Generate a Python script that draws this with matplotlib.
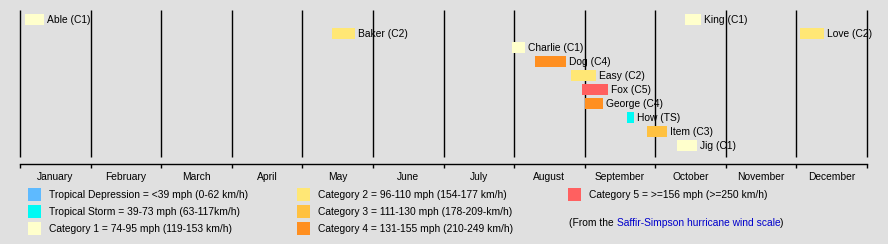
import calendar
import matplotlib
matplotlib.use('Agg')
import matplotlib.pyplot as plt
from matplotlib.patches import Rectangle

plt.rcParams['font.family'] = ['Liberation Sans', 'DejaVu Sans']
FS = 7.4

# storm data (month, day)
names = ['Able', 'Baker', 'Charlie', 'Dog', 'Easy', 'Fox', 'George', 'How',
         'Item', 'Jig', 'King', 'Love']
cats = ['C1', 'C2', 'C1', 'C4', 'C2', 'C5', 'C4', 'TS', 'C3', 'C1', 'C1', 'C2']
starts = [(1, 3), (5, 14), (7, 31), (8, 10), (8, 26), (8, 31), (9, 1), (9, 19),
          (9, 27.5), (10, 10.5), (10, 14), (12, 2.5)]
ends = [(1, 11.5), (5, 24), (8, 6), (8, 24), (9, 6), (9, 11), (9, 9), (9, 22),
        (10, 6), (10, 19.3), (10, 21), (12, 13)]
rows = [0, 1, 2, 3, 4, 5, 6, 7, 8, 9, 0, 1]

months = ['January', 'February', 'March', 'April', 'May', 'June', 'July',
          'August', 'September', 'October', 'November', 'December']

legend_keys = ['TD', 'TS', 'C1', 'C2', 'C3', 'C4', 'C5']
legend_labels = ['Tropical Depression = <39 mph (0-62 km/h)',
                 'Tropical Storm = 39-73 mph (63-117km/h)',
                 'Category 1 = 74-95 mph (119-153 km/h)',
                 'Category 2 = 96-110 mph (154-177 km/h)',
                 'Category 3 = 111-130 mph (178-209-km/h)',
                 'Category 4 = 131-155 mph (210-249 km/h)',
                 'Category 5 = >=156 mph (>=250 km/h)']

colors = {'TD': '#5ebaff', 'TS': '#00faf4', 'C1': '#ffffcc', 'C2': '#ffe775',
          'C3': '#ffc140', 'C4': '#ff8f20', 'C5': '#ff6060'}
bg = '#e0e0e0'


def to_x(md):
    m, d = md
    return m - 1 + (d - 1) / calendar.monthrange(1951, m)[1]


W, H = 888, 244
fig = plt.figure(figsize=(W / 100, H / 100), dpi=100, facecolor=bg)

ax = fig.add_axes([20 / W, 1 - 164 / H, 847 / W, 154 / H])
ax.set_facecolor(bg)
ax.set_xlim(0, 12)
ax.set_ylim(10.32, -0.68)
for s in ['top', 'right', 'left']:
    ax.spines[s].set_visible(False)
ax.spines['bottom'].set_linewidth(1)
ax.set_yticks([])
ax.set_xticks(range(13))
ax.set_xticklabels([])
ax.set_xticks([i + 0.5 for i in range(12)], minor=True)
ax.set_xticklabels(months, minor=True)
ax.tick_params(axis='x', which='major', length=3, width=1, direction='out')
ax.tick_params(axis='x', which='minor', length=0, pad=6, labelsize=FS)

ax.vlines(range(13), -0.68, 9.82, color='black', lw=1, clip_on=False)

for n, c, s, e, r in zip(names, cats, starts, ends, rows):
    x0, x1 = to_x(s), to_x(e)
    ax.barh(r, x1 - x0, left=x0, height=0.79, color=colors[c], zorder=3)
    ax.annotate(f'{n} ({c})', (x1, r), xytext=(3, 0), textcoords='offset pixels',
                va='center', ha='left', fontsize=FS, zorder=4)

# legend in pixel layout
lax = fig.add_axes([0, 0, 1, 1 - 160 / H])
lax.set_xlim(0, W)
lax.set_ylim(H, 160)
lax.axis('off')
col_x = [28, 297, 568]
row_y = [194.5, 211.5, 228.5]
for i, (k, lab) in enumerate(zip(legend_keys, legend_labels)):
    cx = col_x[i // 3]
    cy = row_y[i % 3]
    lax.add_patch(Rectangle((cx, cy - 6.5), 13, 13, color=colors[k], lw=0))
    lax.text(cx + 21, cy, lab, va='center', ha='left', fontsize=FS)

t1 = lax.text(569, 223, '(From the ', va='center', ha='left', fontsize=FS)
fig.canvas.draw()
r = fig.canvas.get_renderer()
bb = t1.get_window_extent(r)
x2 = lax.transData.inverted().transform((bb.x1, 0))[0]
t2 = lax.text(x2, 223, 'Saffir-Simpson hurricane wind scale', va='center', ha='left',
              fontsize=FS, color='#0000cc')
bb2 = t2.get_window_extent(r)
x3 = lax.transData.inverted().transform((bb2.x1, 0))[0]
lax.text(x3, 223, ')', va='center', ha='left', fontsize=FS)

fig.savefig('out.png', dpi=100, facecolor=bg)
